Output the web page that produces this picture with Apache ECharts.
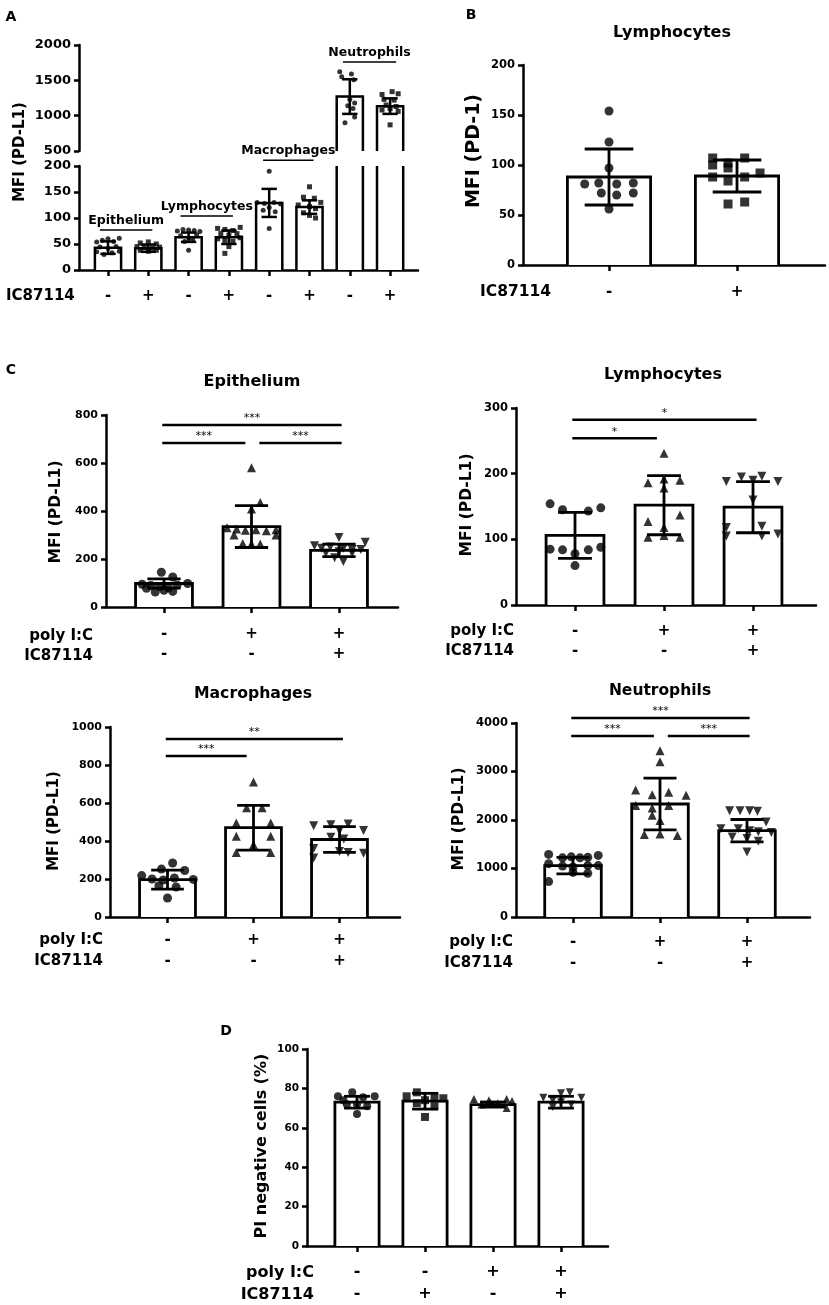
<!DOCTYPE html>
<html>
<head>
<meta charset="utf-8">
<title>PD-L1 MFI</title>
<script src="https://cdn.jsdelivr.net/npm/echarts@6.0.0/dist/echarts.min.js"></script>
<style>
html, body { margin: 0; padding: 0; background: #fff; }
#chart { width: 829px; height: 1305px; }
</style>
</head>
<body>
<div id="chart"></div>
<script>
// ---------- values ----------

// A: PD-L1 MFI per cell type, without / with IC87114
var aSigns = ['-', '+', '-', '+', '-', '+', '-', '+'];
var aGroups = ['Epithelium', 'Lymphocytes', 'Macrophages', 'Neutrophils'];
// [from x, to x, y, group index]
var aGroupLines = [[-0.2, 1.1, 77, 0], [1.8, 3.1, 104, 1], [3.85, 5.1, 211, 2], [5.83, 7.15, 1761, 3]];
var aMeans = [43, 42, 63, 63, 129, 121, 1270, 1135];
var aSD = [12, 7, 9, 13, 27, 13, 245, 110];
var aPoints = [
    [[-0.28, 54], [-0.14, 57], [0, 60], [0.14, 55], [0.28, 61], [-0.2, 44], [0, 42], [0.2, 45], [-0.28, 35], [-0.1, 30], [0.1, 33], [0.28, 36]],
    [[-0.2, 52], [0, 54], [0.2, 50], [-0.28, 45], [-0.1, 43], [0.1, 42], [0.28, 44], [-0.2, 38], [0, 36], [0.2, 38]],
    [[-0.28, 75], [-0.14, 78], [0, 77], [0.14, 76], [0.28, 74], [-0.2, 66], [0, 62], [0.2, 68], [-0.1, 55], [0.1, 58], [0, 38]],
    [[-0.28, 80], [-0.1, 78], [0.1, 76], [0.28, 82], [-0.2, 70], [0, 67], [0.2, 70], [-0.28, 60], [-0.1, 57], [0.1, 55], [0.28, 62], [0, 45], [-0.1, 32]],
    [[0, 190], [-0.3, 130], [-0.12, 128], [0.12, 130], [0.28, 127], [0, 120], [-0.15, 115], [0.15, 112], [0, 80]],
    [[0, 160], [-0.15, 140], [0.12, 138], [0.28, 130], [-0.28, 125], [0, 122], [0.15, 118], [-0.15, 110], [0, 105], [0.15, 100]],
    [[-0.25, 1620], [0.04, 1590], [-0.2, 1550], [0.1, 1510], [0, 1230], [0.12, 1180], [-0.05, 1140], [0.08, 1100], [0.12, 980], [-0.12, 900]],
    [[0.05, 1340], [-0.2, 1300], [0.2, 1310], [-0.15, 1230], [0.1, 1220], [-0.1, 1150], [0.15, 1130], [0, 1100], [-0.2, 1080], [0.2, 1060], [0, 870]]
];
var aSymbols = ['circle', 'rect', 'circle', 'rect', 'circle', 'rect', 'circle', 'rect'];

// B: PD-1 MFI on lymphocytes
var bSigns = ['-', '+'];
var bMeans = [88, 89];
var bSD = [28, 16];
var bPoints = [
    [[0, 154], [0, 123], [0, 97], [-0.19, 81], [-0.08, 82], [0.06, 81], [0.19, 82], [-0.06, 72], [0.06, 70], [0.19, 72], [0, 56]],
    [[-0.19, 107], [-0.07, 102], [0.06, 107], [-0.19, 100], [-0.07, 97], [-0.19, 88], [-0.07, 84], [0.06, 88], [0.18, 92], [-0.07, 61], [0.06, 63]]
];

// C: PD-L1 MFI after poly I:C with / without IC87114
var cPoly = ['-', '+', '+'];
var cIC = ['-', '-', '+'];
var cSymbols = ['circle', 'triangle', 'down'];

var epiMeans = [98, 335, 236];
var epiSD = [19, 87, 26];
var epiPoints = [
    [[-0.03, 145], [0.1, 125], [-0.25, 95], [-0.15, 90], [-0.05, 85], [0.05, 80], [0.15, 92], [0.27, 98], [-0.2, 78], [0, 70], [0.1, 65], [-0.1, 62]],
    [[0, 580], [0.1, 435], [0, 408], [-0.28, 330], [-0.17, 325], [-0.07, 320], [0.05, 322], [0.17, 318], [0.28, 322], [-0.2, 300], [0.28, 300], [-0.1, 265], [0, 262], [0.1, 262]],
    [[0, 290], [-0.28, 255], [0.3, 270], [-0.2, 245], [-0.1, 250], [0.05, 245], [0.15, 240], [0.25, 240], [-0.15, 225], [0, 230], [0.15, 225], [-0.05, 205], [0.05, 190]]
];
// [from x, to x, y]
var epiSig = [[-0.02, 2.03, 758], [-0.02, 0.93, 683], [1.09, 2.03, 683]];
var epiSigText = ['***', '***', '***'];

var lymMeans = [106, 152, 149];
var lymSD = [35, 45, 39];
var lymPoints = [
    [[-0.28, 154], [-0.14, 145], [0.15, 143], [0.29, 148], [-0.28, 85], [-0.14, 84], [0.15, 84], [0.29, 88], [0, 78], [0, 60]],
    [[0, 231], [0, 192], [-0.18, 186], [0.18, 190], [0, 178], [-0.18, 127], [0.18, 137], [0, 118], [-0.18, 103], [0, 106], [0.18, 103]],
    [[-0.3, 188], [-0.13, 195], [0.1, 196], [0.28, 188], [0, 190], [0, 160], [-0.3, 118], [-0.3, 105], [0.1, 120], [0.1, 105], [0.28, 108]]
];
var lymSig = [[-0.03, 2.04, 282], [-0.03, 0.92, 254]];
var lymSigText = ['*', '*'];

var macMeans = [197, 470, 408];
var macSD = [50, 118, 68];
var macPoints = [
    [[0.06, 284], [-0.07, 252], [0.2, 245], [-0.3, 218], [-0.18, 200], [-0.05, 195], [0.08, 205], [0.3, 198], [-0.1, 165], [0.1, 158], [0, 100]],
    [[0, 710], [-0.08, 575], [0.1, 575], [-0.2, 495], [0.2, 495], [-0.2, 425], [0.2, 425], [0, 380], [-0.2, 340], [0.2, 340]],
    [[-0.3, 480], [-0.1, 485], [0.1, 490], [0.28, 455], [0, 455], [-0.1, 420], [0.05, 410], [-0.3, 360], [0, 345], [0.1, 340], [0.28, 335], [-0.3, 310]]
];
var macSig = [[-0.02, 2.04, 937], [-0.02, 0.92, 847]];
var macSigText = ['**', '***'];

var neuMeans = [1060, 2330, 1780];
var neuSD = [170, 535, 230];
var neuPoints = [
    [[-0.28, 1290], [-0.12, 1220], [-0.02, 1240], [0.08, 1220], [0.17, 1230], [0.29, 1270], [-0.28, 1100], [-0.12, 1050], [0, 1030], [0.17, 1060], [0.29, 1060], [0, 920], [0.17, 900], [-0.28, 730]],
    [[0, 3430], [0, 3200], [-0.28, 2620], [-0.09, 2520], [0.1, 2570], [0.3, 2510], [-0.28, 2300], [0.1, 2300], [-0.09, 2250], [-0.09, 2100], [0, 1990], [-0.18, 1700], [0, 1710], [0.2, 1680]],
    [[-0.2, 2190], [-0.08, 2190], [0.03, 2190], [0.12, 2180], [0.22, 1960], [-0.3, 1820], [-0.1, 1820], [0.03, 1780], [0.13, 1760], [0.28, 1740], [-0.17, 1650], [0, 1620], [0.13, 1560], [0, 1340]]
];
var neuSig = [[-0.02, 2.03, 4103], [-0.02, 0.93, 3732], [1.09, 2.03, 3732]];
var neuSigText = ['***', '***', '***'];

// D: PI negative cells (%)
var dPoly = ['-', '-', '+', '+'];
var dIC = ['-', '+', '-', '+'];
var dMeans = [73, 73.5, 71.8, 73];
var dSD = [3, 4, 1.3, 3];
var dPoints = [
    [[-0.28, 76], [-0.07, 78], [-0.2, 74], [0.09, 75.5], [0.26, 76], [0, 72], [0.15, 71], [-0.15, 72], [0, 67]],
    [[-0.27, 76], [-0.12, 78], [0.14, 76], [0.27, 75], [0, 74], [-0.12, 72.5], [0.14, 71], [0, 65.5]],
    [[-0.28, 74.6], [-0.17, 71.8], [-0.04, 72.5], [0.07, 72.5], [0.2, 74.6], [0.28, 73.6], [0.2, 70], [-0.06, 74]],
    [[-0.26, 75.2], [-0.12, 74], [0, 77.5], [0.13, 78], [0.3, 75.2], [-0.12, 70.5], [0.15, 71.8], [0, 73]]
];
var dSymbols = ['circle', 'rect', 'triangle', 'down'];

// ---------- layout ----------
var FF = 'DejaVu Sans';
var INK = '#000';
var BAR_W = 0.65;
var CAP_W = 0.38;

// plot boxes in px; first = px of first category, step = px between categories
var panels = [
    { left: 79, top: 45, width: 339, height: 106, first: 108, step: 40.3, y: [500, 2000, 500], tick: 13 },
    { left: 79, top: 166, width: 339, height: 104, first: 108, step: 40.3, y: [0, 200, 50], tick: 13 },
    { left: 523, top: 65, width: 302, height: 200, first: 609, step: 128, y: [0, 200, 50], tick: 11.5 },
    { left: 106, top: 415, width: 292, height: 192, first: 164, step: 87.5, y: [0, 800, 200], tick: 11 },
    { left: 516, top: 408, width: 300, height: 197, first: 575, step: 89, y: [0, 300, 100], tick: 11.5 },
    { left: 110, top: 727, width: 290, height: 190, first: 167.5, step: 86, y: [0, 1000, 200], tick: 11 },
    { left: 516, top: 723, width: 294, height: 194, first: 573, step: 87, y: [0, 4000, 1000], tick: 11.5 },
    { left: 307, top: 1049, width: 301, height: 198, first: 357, step: 68, y: [0, 100, 20], tick: 10.5 }
];

var grids = [], xAxes = [], yAxes = [], series = [];

function range(n) {
    var a = [];
    for (var i = 0; i < n; i++) a.push(i);
    return a;
}

panels.forEach(function (p, k) {
    grids.push({ left: p.left, top: p.top, width: p.width, height: p.height, containLabel: false });
    yAxes.push({
        type: 'value', gridIndex: k, min: p.y[0], max: p.y[1], interval: p.y[2],
        axisLine: { show: true, onZero: false, lineStyle: { color: INK, width: 2.5 } },
        axisTick: { show: true, length: 5, lineStyle: { color: INK, width: 2.5 } },
        axisLabel: {
            fontSize: p.tick, fontWeight: 'bold', fontFamily: FF, color: INK, margin: 8,
            formatter: function (v) { return String(v); }
        },
        splitLine: { show: false }
    });
});

function xAxisFor(k, rows, fontSize, margin, lineHeight) {
    var p = panels[k];
    var vals = range(rows[0].length);
    return {
        type: 'value', gridIndex: k,
        min: (p.left - p.first) / p.step,
        max: (p.left + p.width - p.first) / p.step,
        axisLine: { show: true, onZero: false, lineStyle: { color: INK, width: 2.5 } },
        axisTick: { show: true, customValues: vals, length: 6, lineStyle: { color: INK, width: 2.5 } },
        axisLabel: {
            show: true, customValues: vals, margin: margin,
            fontSize: fontSize, fontWeight: 'bold', fontFamily: FF, color: INK, lineHeight: lineHeight,
            formatter: function (v) {
                var i = Math.round(v);
                return rows.map(function (r) { return r[i]; }).join('\n');
            }
        },
        splitLine: { show: false }
    };
}

// panel A top part has no x axis of its own
xAxes.push({
    type: 'value', gridIndex: 0, show: false,
    min: (panels[0].left - panels[0].first) / panels[0].step,
    max: (panels[0].left + panels[0].width - panels[0].first) / panels[0].step
});
xAxes.push(xAxisFor(1, [aSigns], 15, 18, 16));
xAxes.push(xAxisFor(2, [bSigns], 15, 19, 16));
xAxes.push(xAxisFor(3, [cPoly, cIC], 15, 17, 20));
xAxes.push(xAxisFor(4, [cPoly, cIC], 15, 16, 20));
xAxes.push(xAxisFor(5, [cPoly, cIC], 15, 13, 21));
xAxes.push(xAxisFor(6, [cPoly, cIC], 15, 15, 21));
xAxes.push(xAxisFor(7, [dPoly, dIC], 16, 15, 22));

// bars + dots + error bars for one plot
function addBars(k, means, sd, pts, symbols, size, lw) {
    var ymin = panels[k].y[0], ymax = panels[k].y[1];
    series.push({
        type: 'custom', xAxisIndex: k, yAxisIndex: k, clip: false, silent: true,
        data: means.map(function (m, i) { return [i, m]; }),
        renderItem: function (params, api) {
            var x = api.value(0), m = api.value(1);
            if (m <= ymin) return;
            var half = api.size([BAR_W, 0])[0] / 2;
            var base = api.coord([x, ymin]);
            var top = api.coord([x, Math.min(m, ymax)]);
            var xl = base[0] - half, xr = base[0] + half;
            var kids = [{
                type: 'rect',
                shape: { x: xl, y: top[1], width: xr - xl, height: base[1] - top[1] },
                style: { fill: '#fff' }
            }];
            if (m <= ymax) {
                kids.push({
                    type: 'polyline',
                    shape: { points: [[xl, base[1]], [xl, top[1]], [xr, top[1]], [xr, base[1]]] },
                    style: { stroke: INK, lineWidth: lw, fill: null }
                });
            } else {
                kids.push({ type: 'line', shape: { x1: xl, y1: base[1], x2: xl, y2: top[1] }, style: { stroke: INK, lineWidth: lw } });
                kids.push({ type: 'line', shape: { x1: xr, y1: base[1], x2: xr, y2: top[1] }, style: { stroke: INK, lineWidth: lw } });
            }
            return { type: 'group', children: kids };
        }
    });
    pts.forEach(function (g, i) {
        var sym = symbols[i];
        var data = g.filter(function (q) { return q[1] >= ymin && q[1] <= ymax; })
            .map(function (q) { return [i + q[0], q[1]]; });
        if (!data.length) return;
        series.push({
            type: 'scatter', xAxisIndex: k, yAxisIndex: k, silent: true,
            symbol: sym === 'down' ? 'triangle' : sym,
            symbolRotate: sym === 'down' ? 180 : 0,
            symbolSize: size,
            itemStyle: { color: INK },
            data: data
        });
    });
    series.push({
        type: 'custom', xAxisIndex: k, yAxisIndex: k, clip: false, silent: true,
        data: means.map(function (m, i) { return [i, m, sd[i]]; }),
        renderItem: function (params, api) {
            var x = api.value(0), m = api.value(1), s = api.value(2);
            if (m < ymin || m > ymax) return;
            var hi = api.coord([x, Math.min(m + s, ymax)]);
            var lo = api.coord([x, Math.max(m - s, ymin)]);
            var c = api.size([CAP_W, 0])[0] / 2;
            return {
                type: 'group', children: [
                    { type: 'line', shape: { x1: hi[0], y1: hi[1], x2: lo[0], y2: lo[1] }, style: { stroke: INK, lineWidth: lw } },
                    { type: 'line', shape: { x1: hi[0] - c, y1: hi[1], x2: hi[0] + c, y2: hi[1] }, style: { stroke: INK, lineWidth: lw } },
                    { type: 'line', shape: { x1: lo[0] - c, y1: lo[1], x2: lo[0] + c, y2: lo[1] }, style: { stroke: INK, lineWidth: lw } }
                ]
            };
        }
    });
}

// horizontal lines with a label on top (significance bars, group labels)
function addLines(k, lines, labelOf, font, lw, gap) {
    series.push({
        type: 'custom', xAxisIndex: k, yAxisIndex: k, clip: false, silent: true,
        data: lines,
        renderItem: function (params, api) {
            var a = api.coord([api.value(0), api.value(2)]);
            var b = api.coord([api.value(1), api.value(2)]);
            return {
                type: 'group', children: [
                    { type: 'line', shape: { x1: a[0], y1: a[1], x2: b[0], y2: b[1] }, style: { stroke: INK, lineWidth: lw } },
                    {
                        type: 'text', x: (a[0] + b[0]) / 2, y: a[1] - gap,
                        style: { text: labelOf(params.dataIndex), font: font, fill: INK, align: 'center', verticalAlign: 'bottom' }
                    }
                ]
            };
        }
    });
}

addBars(0, aMeans, aSD, aPoints, aSymbols, 5, 2.5);
addBars(1, aMeans, aSD, aPoints, aSymbols, 5, 2.5);
var aLow = aGroupLines.filter(function (l) { return l[2] < 500; });
var aHigh = aGroupLines.filter(function (l) { return l[2] >= 500; });
addLines(1, aLow, function (i) { return aGroups[aLow[i][3]]; }, 'bold 12.5px "DejaVu Sans"', 1.5, 3);
addLines(0, aHigh, function (i) { return aGroups[aHigh[i][3]]; }, 'bold 12.5px "DejaVu Sans"', 1.5, 3);

addBars(2, bMeans, bSD, bPoints, ['circle', 'rect'], 9, 2.8);

addBars(3, epiMeans, epiSD, epiPoints, cSymbols, 9, 2.8);
addLines(3, epiSig, function (i) { return epiSigText[i]; }, '11px "DejaVu Sans"', 2.5, 1);
addBars(4, lymMeans, lymSD, lymPoints, cSymbols, 9, 2.8);
addLines(4, lymSig, function (i) { return lymSigText[i]; }, '11px "DejaVu Sans"', 2.5, 1);
addBars(5, macMeans, macSD, macPoints, cSymbols, 9, 2.8);
addLines(5, macSig, function (i) { return macSigText[i]; }, '11px "DejaVu Sans"', 2.5, 1);
addBars(6, neuMeans, neuSD, neuPoints, cSymbols, 9, 2.8);
addLines(6, neuSig, function (i) { return neuSigText[i]; }, '11px "DejaVu Sans"', 2.5, 1);

addBars(7, dMeans, dSD, dPoints, dSymbols, 8, 2.8);

// ---------- free text ----------
function label(x, y, text, size, align, rotate) {
    return {
        type: 'text', x: x, y: y, rotation: rotate ? Math.PI / 2 : 0, silent: true,
        style: {
            text: text, font: 'bold ' + size + 'px "DejaVu Sans"', fill: INK,
            align: align || 'center', verticalAlign: 'middle'
        }
    };
}

var graphics = [
    label(11, 17, 'A', 14), label(471, 15, 'B', 14), label(11, 370, 'C', 14), label(226, 1031, 'D', 14),
    label(672, 33, 'Lymphocytes', 16),
    label(252, 382, 'Epithelium', 16),
    label(663, 375, 'Lymphocytes', 16),
    label(253, 694, 'Macrophages', 15.7),
    label(660, 691, 'Neutrophils', 15.5),
    label(20, 152, 'MFI (PD-L1)', 15, 'center', true),
    label(474, 151, 'MFI (PD-1)', 19, 'center', true),
    label(56, 512, 'MFI (PD-L1)', 15.5, 'center', true),
    label(467, 505, 'MFI (PD-L1)', 15.5, 'center', true),
    label(54, 821, 'MFI (PD-L1)', 15, 'center', true),
    label(459, 819, 'MFI (PD-L1)', 15.5, 'center', true),
    label(262, 1146, 'PI negative cells (%)', 16, 'center', true),
    label(6, 296, 'IC87114', 15, 'left'),
    label(480, 292, 'IC87114', 15.5, 'left'),
    label(93, 636, 'poly I:C', 15, 'right'), label(93, 656, 'IC87114', 15, 'right'),
    label(514, 631, 'poly I:C', 15, 'right'), label(514, 651, 'IC87114', 15, 'right'),
    label(103, 940, 'poly I:C', 15, 'right'), label(103, 961, 'IC87114', 15, 'right'),
    label(513, 942, 'poly I:C', 15, 'right'), label(513, 963, 'IC87114', 15, 'right'),
    label(314, 1273, 'poly I:C', 16, 'right'), label(314, 1295, 'IC87114', 16, 'right')
];

var chart = echarts.init(document.getElementById('chart'));
chart.setOption({
    animation: false,
    backgroundColor: '#fff',
    grid: grids,
    xAxis: xAxes,
    yAxis: yAxes,
    series: series,
    graphic: graphics
});
</script>
</body>
</html>
